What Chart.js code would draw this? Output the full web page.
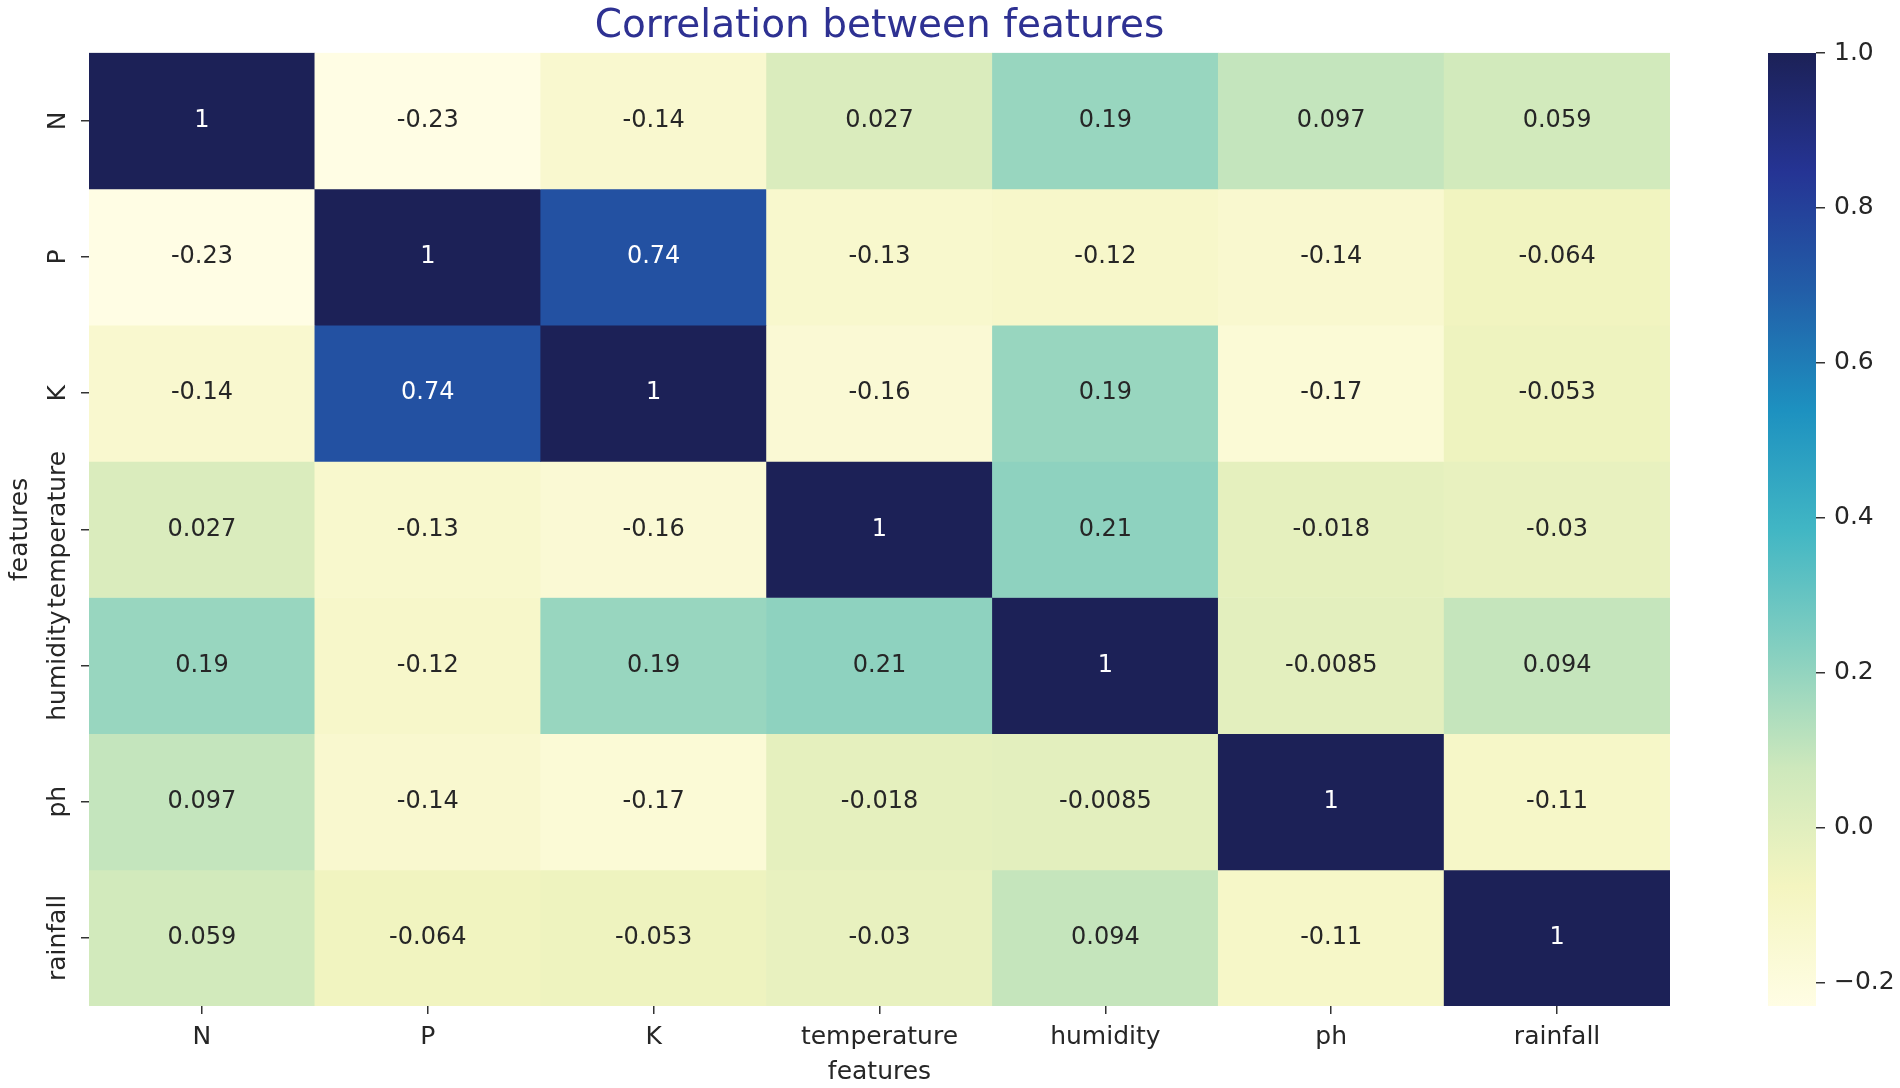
<!DOCTYPE html>
<html>
<head>
<meta charset="utf-8">
<title>Correlation between features</title>
<script src="https://cdn.jsdelivr.net/npm/chart.js@4.4.0/dist/chart.umd.min.js"></script>
<style>
  body { margin: 0; background: #fff; }
  #heat { position: absolute; left: 0; top: 0; }
  #bar { position: absolute; left: 1760px; top: 0; }
</style>
</head>
<body>
<canvas id="heat" width="1759" height="1088"></canvas>
<canvas id="bar" width="140" height="1088"></canvas>
<script>
// feature names (rows and columns)
const features = ['N', 'P', 'K', 'temperature', 'humidity', 'ph', 'rainfall'];

// correlation rows, as printed in the cells
const corrN           = [1, -0.23, -0.14, 0.027, 0.19, 0.097, 0.059];
const corrP           = [-0.23, 1, 0.74, -0.13, -0.12, -0.14, -0.064];
const corrK           = [-0.14, 0.74, 1, -0.16, 0.19, -0.17, -0.053];
const corrTemperature = [0.027, -0.13, -0.16, 1, 0.21, -0.018, -0.03];
const corrHumidity    = [0.19, -0.12, 0.19, 0.21, 1, -0.0085, 0.094];
const corrPh          = [0.097, -0.14, -0.17, -0.018, -0.0085, 1, -0.11];
const corrRainfall    = [0.059, -0.064, -0.053, -0.03, 0.094, -0.11, 1];

// colorbar tick labels
const colorbarTicks = [-0.2, 0, 0.2, 0.4, 0.6, 0.8, 1.0];

const matrix = [corrN, corrP, corrK, corrTemperature, corrHumidity, corrPh, corrRainfall];
const vmin = Math.min(...matrix.flat());
const vmax = 1;

// YlGnBu-like stops, light end warmed a little to match the picture
const ylGnBu = ['#fffde4', '#f4f5c0', '#cde8bc', '#84cfc0', '#41b6c4', '#1d91c0', '#225ea8', '#253494', '#1c2157'];

const hexToRgb = h => [1, 3, 5].map(i => parseInt(h.substr(i, 2), 16));

function cmapRgb(v) {
    let t = (v - vmin) / (vmax - vmin);
    t = Math.max(0, Math.min(1, t)) * (ylGnBu.length - 1);
    const i = Math.min(Math.floor(t), ylGnBu.length - 2);
    const f = t - i;
    const a = hexToRgb(ylGnBu[i]);
    const b = hexToRgb(ylGnBu[i + 1]);
    return a.map((c, k) => Math.round(c + (b[k] - c) * f));
}

const cmap = v => 'rgb(' + cmapRgb(v).join(',') + ')';

// same rule seaborn uses for annotation colour
function textColor(v) {
    const lin = cmapRgb(v).map(c => {
        c = c / 255;
        return c <= 0.03928 ? c / 12.92 : Math.pow((c + 0.055) / 1.055, 2.4);
    });
    const lum = 0.2126 * lin[0] + 0.7152 * lin[1] + 0.0722 * lin[2];
    return lum > 0.408 ? '#262626' : '#ffffff';
}

Chart.defaults.font.family = '"DejaVu Sans", sans-serif';
Chart.defaults.color = '#262626';

// numbers inside the cells
const cellLabels = {
    id: 'cellLabels',
    afterDatasetsDraw(chart) {
        const ctx = chart.ctx;
        ctx.save();
        ctx.font = '24px "DejaVu Sans"';
        ctx.textAlign = 'center';
        ctx.textBaseline = 'middle';
        chart.data.datasets.forEach((ds, r) => {
            chart.getDatasetMeta(r).data.forEach((bar, c) => {
                const v = ds.values[c];
                const { x, y, base } = bar.getProps(['x', 'y', 'base'], true);
                ctx.fillStyle = textColor(v);
                ctx.fillText(String(v), x, (y + base) / 2);
            });
        });
        ctx.restore();
    }
};

// rotated row labels on the left
const rowLabels = {
    id: 'rowLabels',
    afterDraw(chart) {
        const scale = chart.scales.y;
        const ctx = chart.ctx;
        ctx.save();
        ctx.font = '25px "DejaVu Sans"';
        ctx.fillStyle = '#262626';
        ctx.textAlign = 'center';
        ctx.textBaseline = 'middle';
        features.forEach((name, i) => {
            ctx.save();
            ctx.translate(scale.right - 31, scale.getPixelForValue(i));
            ctx.rotate(-Math.PI / 2);
            ctx.fillText(name, 0, 0);
            ctx.restore();
        });
        ctx.restore();
    }
};

const heatDatasets = matrix.map((row, r) => ({
    label: features[r],
    data: row.map(() => [r - 0.5, r + 0.5]),
    values: row,
    backgroundColor: row.map(cmap),
    borderWidth: 0,
    grouped: false,
    barPercentage: 1,
    categoryPercentage: 1
}));

const tickGrid = { display: true, drawOnChartArea: false, offset: false, tickLength: 8, color: '#333333', lineWidth: 1.5 };

new Chart(document.getElementById('heat'), {
    type: 'bar',
    data: { labels: features, datasets: heatDatasets },
    plugins: [cellLabels, rowLabels],
    options: {
        responsive: false,
        animation: false,
        layout: { padding: 0 },
        plugins: {
            legend: { display: false },
            tooltip: { enabled: false },
            title: {
                display: true,
                text: 'Correlation between features',
                color: '#2e3192',
                font: { size: 39, weight: 'normal' },
                padding: { top: 3, bottom: 3 }
            }
        },
        scales: {
            x: {
                type: 'category',
                offset: true,
                grid: tickGrid,
                border: { display: false },
                ticks: { padding: 8, font: { size: 25 }, color: '#262626', maxRotation: 0, autoSkip: false },
                title: { display: true, text: 'features', font: { size: 25 }, color: '#262626', padding: { top: 0, bottom: 1 } },
                afterFit(s) { s.height = 82; }
            },
            y: {
                type: 'linear',
                min: -0.5,
                max: 6.5,
                reverse: true,
                afterBuildTicks(s) { s.ticks = features.map((_, i) => ({ value: i })); },
                grid: tickGrid,
                border: { display: false },
                ticks: { display: false },
                title: { display: true, text: 'features', font: { size: 25 }, color: '#262626', padding: { top: 5 } },
                afterFit(s) { s.width = 89; }
            },
            // empty right axis so the title sits over the cells
            y2: {
                type: 'linear',
                axis: 'y',
                position: 'right',
                grid: { display: false },
                border: { display: false },
                ticks: { display: false },
                afterFit(s) { s.width = 89; }
            }
        }
    }
});

function colorbarFill(chart) {
    const y = chart.scales.y;
    const y0 = y ? y.getPixelForValue(vmin) : NaN;
    const y1 = y ? y.getPixelForValue(vmax) : NaN;
    if (!isFinite(y0) || !isFinite(y1) || y0 === y1) return cmap(vmax);
    const g = chart.ctx.createLinearGradient(0, y0, 0, y1);
    ylGnBu.forEach((c, i) => g.addColorStop(i / (ylGnBu.length - 1), c));
    return g;
}

const colorbar = new Chart(document.getElementById('bar'), {
    type: 'bar',
    data: {
        labels: [''],
        datasets: [{
            data: [[vmin, vmax]],
            backgroundColor: ctx => colorbarFill(ctx.chart),
            borderWidth: 0,
            barPercentage: 1,
            categoryPercentage: 1
        }]
    },
    options: {
        responsive: false,
        animation: false,
        layout: { padding: { left: 8, top: 53, bottom: 82, right: 0 } },
        plugins: { legend: { display: false }, tooltip: { enabled: false } },
        scales: {
            x: { display: false },
            y: {
                position: 'right',
                min: vmin,
                max: vmax,
                afterBuildTicks(s) { s.ticks = colorbarTicks.map(v => ({ value: v })); },
                grid: { drawOnChartArea: false, tickLength: 9, color: '#333333', lineWidth: 1.5 },
                border: { display: false },
                ticks: {
                    padding: 9,
                    font: { size: 25 },
                    color: '#262626',
                    callback: v => (v < -1e-9 ? '\u2212' : '') + Math.abs(v).toFixed(1)
                },
                afterFit(s) { s.width = 84; }
            }
        }
    }
});
// second pass once the scale has its pixel positions
colorbar.update();
</script>
</body>
</html>
